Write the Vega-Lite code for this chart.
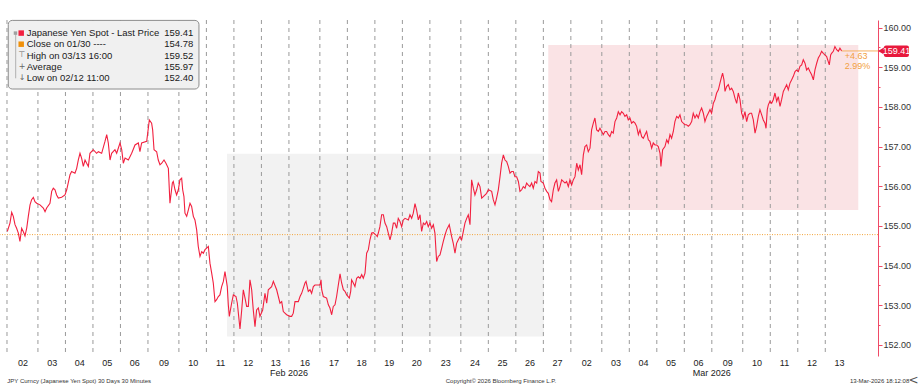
{
  "$schema": "https://vega.github.io/schema/vega-lite/v6.json",
  "width": 878,
  "height": 336,
  "autosize": {"type": "none"},
  "padding": {"left": 0, "top": 20, "right": 40, "bottom": 35},
  "background": "white",
  "view": {"stroke": null},
  "config": {"font": "Liberation Sans"},
  "data": {"values": [{}]},
  "datasets": {
    "px": [
      {"h":0.3,"p":154.86},{"h":2.6,"p":155.07},{"h":4.1,"p":155.34},{"h":5.5,"p":155.24},{"h":7.0,"p":155.03},{"h":8.4,"p":154.94},{"h":9.9,"p":154.82},{"h":11.3,"p":154.61},{"h":12.8,"p":154.94},{"h":14.2,"p":154.86},{"h":15.7,"p":154.75},{"h":17.2,"p":154.94},{"h":18.6,"p":155.24},{"h":20.1,"p":155.53},{"h":21.5,"p":155.66},{"h":23.0,"p":155.72},{"h":24.4,"p":155.61},{"h":25.9,"p":155.57},{"h":28.8,"p":155.53},{"h":31.7,"p":155.45},{"h":33.2,"p":155.36},{"h":34.6,"p":155.45},{"h":37.5,"p":155.57},{"h":39.0,"p":155.87},{"h":40.4,"p":155.95},{"h":41.9,"p":155.91},{"h":43.3,"p":155.78},{"h":44.8,"p":155.70},{"h":47.7,"p":155.72},{"h":50.6,"p":155.78},{"h":52.1,"p":155.91},{"h":55.0,"p":156.29},{"h":56.4,"p":156.37},{"h":59.3,"p":156.33},{"h":60.8,"p":156.45},{"h":62.2,"p":156.66},{"h":63.7,"p":156.83},{"h":65.1,"p":156.71},{"h":66.6,"p":156.50},{"h":68.1,"p":156.66},{"h":69.5,"p":156.58},{"h":71.0,"p":156.50},{"h":72.4,"p":156.83},{"h":75.3,"p":156.92},{"h":78.2,"p":156.83},{"h":79.7,"p":156.87},{"h":82.6,"p":156.83},{"h":85.5,"p":157.13},{"h":87.0,"p":157.30},{"h":88.4,"p":157.09},{"h":89.9,"p":156.66},{"h":91.3,"p":156.83},{"h":94.2,"p":156.92},{"h":95.7,"p":156.83},{"h":98.6,"p":157.09},{"h":100.1,"p":156.92},{"h":101.5,"p":156.58},{"h":103.0,"p":156.71},{"h":105.9,"p":156.66},{"h":108.8,"p":156.83},{"h":111.7,"p":157.04},{"h":114.6,"p":157.09},{"h":116.0,"p":156.87},{"h":117.5,"p":157.09},{"h":121.9,"p":157.13},
      {"h":124.2,"p":157.67},{"h":126.2,"p":157.59},{"h":127.1,"p":157.42},{"h":128.3,"p":156.92},{"h":130.6,"p":156.87},{"h":132.0,"p":156.66},{"h":133.5,"p":156.54},{"h":135.0,"p":156.58},{"h":137.0,"p":156.66},{"h":138.7,"p":156.58},{"h":140.8,"p":156.45},{"h":142.2,"p":155.57},{"h":144.3,"p":156.08},{"h":145.1,"p":156.12},{"h":146.6,"p":155.91},{"h":148.0,"p":155.78},{"h":149.5,"p":155.91},{"h":150.9,"p":156.16},{"h":152.4,"p":156.20},{"h":153.3,"p":155.91},{"h":154.4,"p":155.74},{"h":155.3,"p":155.32},{"h":156.8,"p":155.24},{"h":158.2,"p":155.40},{"h":159.7,"p":155.57},{"h":161.1,"p":155.49},{"h":162.6,"p":155.24},{"h":164.0,"p":155.15},{"h":165.5,"p":154.90},{"h":166.9,"p":154.48},{"h":168.4,"p":154.23},{"h":169.9,"p":154.35},{"h":171.3,"p":154.31},{"h":172.8,"p":154.40},{"h":174.2,"p":154.44},{"h":175.7,"p":154.48},{"h":177.1,"p":154.06},{"h":178.6,"p":153.81},{"h":180.0,"p":153.56},{"h":181.5,"p":153.09},{"h":182.9,"p":153.14},{"h":184.4,"p":153.22},{"h":185.8,"p":153.26},{"h":187.3,"p":153.47},{"h":188.8,"p":153.60},{"h":190.2,"p":153.85},{"h":191.1,"p":153.68},{"h":192.2,"p":153.47},{"h":193.1,"p":153.01},{"h":194.0,"p":152.72},{"h":196.0,"p":153.05},{"h":197.5,"p":153.26},{"h":199.8,"p":153.22},{"h":201.0,"p":153.05},{"h":203.3,"p":152.40},{"h":204.8,"p":152.88},{"h":206.2,"p":153.39},{"h":207.7,"p":153.18},{"h":209.1,"p":152.97},{"h":210.6,"p":152.97},{"h":212.0,"p":153.64},{"h":213.5,"p":153.39},{"h":214.9,"p":152.88},{"h":216.4,"p":152.46},{"h":217.8,"p":152.88},{"h":219.3,"p":152.93},{"h":220.7,"p":152.72},{"h":223.1,"p":152.88},{"h":225.1,"p":153.30},{"h":226.6,"p":153.05},{"h":228.0,"p":153.39},{"h":230.9,"p":153.47},{"h":232.4,"p":153.60},{"h":235.3,"p":153.39},{"h":238.2,"p":153.05},{"h":239.7,"p":153.09},{"h":241.1,"p":152.84},{"h":244.0,"p":152.76},{"h":246.9,"p":152.72},{"h":248.4,"p":152.72},{"h":249.8,"p":152.80},{"h":251.3,"p":153.09},{"h":254.2,"p":153.09},
      {"h":255.7,"p":153.22},{"h":257.1,"p":153.30},{"h":258.6,"p":153.43},{"h":260.0,"p":153.56},{"h":260.9,"p":153.60},{"h":262.9,"p":153.35},{"h":264.4,"p":153.39},{"h":265.8,"p":153.30},{"h":267.3,"p":153.47},{"h":268.7,"p":153.51},{"h":273.1,"p":153.51},{"h":274.0,"p":153.64},{"h":274.6,"p":153.39},{"h":276.0,"p":153.22},{"h":278.9,"p":153.18},{"h":280.4,"p":153.01},{"h":281.8,"p":152.93},{"h":283.3,"p":152.76},{"h":284.7,"p":152.97},{"h":286.2,"p":153.01},{"h":287.6,"p":153.22},{"h":289.1,"p":153.51},{"h":290.6,"p":153.79},{"h":292.0,"p":153.56},{"h":293.5,"p":153.39},{"h":294.9,"p":153.35},{"h":296.4,"p":153.26},{"h":298.7,"p":153.18},{"h":299.9,"p":153.35},{"h":300.7,"p":153.64},{"h":302.2,"p":153.56},{"h":303.6,"p":153.47},{"h":305.1,"p":153.68},{"h":306.5,"p":153.72},{"h":308.0,"p":153.68},{"h":309.5,"p":153.77},{"h":310.9,"p":153.68},{"h":312.4,"p":153.81},{"h":313.8,"p":154.31},{"h":315.3,"p":154.40},{"h":316.7,"p":154.65},{"h":318.2,"p":154.82},{"h":319.6,"p":154.83},{"h":322.0,"p":154.77},{"h":323.1,"p":154.73},{"h":324.0,"p":154.82},{"h":325.4,"p":154.98},{"h":326.9,"p":155.28},{"h":328.4,"p":155.28},{"h":329.8,"p":155.07},{"h":331.3,"p":154.98},{"h":332.7,"p":154.82},{"h":334.2,"p":154.65},{"h":335.6,"p":154.82},{"h":337.1,"p":155.07},{"h":338.5,"p":155.07},{"h":340.0,"p":154.94},{"h":341.4,"p":155.19},{"h":342.9,"p":155.11},{"h":344.4,"p":154.98},{"h":345.8,"p":155.15},{"h":347.3,"p":155.19},{"h":350.2,"p":155.15},{"h":351.6,"p":155.28},{"h":353.1,"p":155.19},{"h":354.5,"p":155.32},{"h":356.0,"p":155.56},{"h":357.4,"p":155.40},{"h":358.9,"p":155.15},{"h":360.4,"p":155.28},{"h":361.8,"p":154.86},{"h":363.3,"p":155.07},{"h":364.7,"p":155.03},{"h":366.2,"p":155.11},{"h":367.6,"p":154.98},{"h":369.1,"p":155.07},{"h":370.5,"p":154.94},{"h":372.0,"p":155.03},{"h":373.4,"p":154.82},{"h":374.9,"p":154.10},{"h":376.3,"p":154.23},{"h":377.8,"p":154.27},
      {"h":379.3,"p":154.44},{"h":380.7,"p":154.61},{"h":382.2,"p":154.77},{"h":383.6,"p":154.90},{"h":385.9,"p":155.03},{"h":388.0,"p":154.73},{"h":389.4,"p":154.56},{"h":390.9,"p":154.31},{"h":392.3,"p":154.56},{"h":393.8,"p":154.65},{"h":395.3,"p":154.73},{"h":396.7,"p":154.65},{"h":398.2,"p":154.86},{"h":399.6,"p":155.07},{"h":401.1,"p":155.19},{"h":402.5,"p":155.28},{"h":404.0,"p":155.03},{"h":405.4,"p":156.16},{"h":406.9,"p":155.95},{"h":408.3,"p":155.78},{"h":409.8,"p":155.91},{"h":411.2,"p":156.08},{"h":412.7,"p":155.99},{"h":414.2,"p":155.70},{"h":415.6,"p":155.74},{"h":418.5,"p":155.82},{"h":420.0,"p":155.91},{"h":422.9,"p":155.87},{"h":424.3,"p":155.66},{"h":425.8,"p":155.53},{"h":427.2,"p":155.70},{"h":428.7,"p":155.91},{"h":430.2,"p":156.24},{"h":431.6,"p":156.58},{"h":433.1,"p":156.79},{"h":434.5,"p":156.66},{"h":436.0,"p":156.62},{"h":437.4,"p":156.50},{"h":438.9,"p":156.33},{"h":440.3,"p":156.37},{"h":441.8,"p":156.37},{"h":443.2,"p":156.24},{"h":444.7,"p":156.24},{"h":446.2,"p":156.12},{"h":447.6,"p":155.87},{"h":449.1,"p":155.91},{"h":450.5,"p":155.99},{"h":452.0,"p":155.95},{"h":453.4,"p":156.08},{"h":454.9,"p":156.03},{"h":456.3,"p":155.99},{"h":457.8,"p":156.08},{"h":459.2,"p":155.95},{"h":460.7,"p":156.12},{"h":462.2,"p":156.08},{"h":463.6,"p":156.37},{"h":465.1,"p":156.33},{"h":465.9,"p":156.12},{"h":468.0,"p":156.08},{"h":469.4,"p":155.95},{"h":470.9,"p":155.87},{"h":472.3,"p":155.82},{"h":473.8,"p":155.66},{"h":475.2,"p":155.61},{"h":476.7,"p":155.91},{"h":478.1,"p":156.08},{"h":479.6,"p":156.16},{"h":481.1,"p":155.87},{"h":482.5,"p":155.99},{"h":484.0,"p":156.16},{"h":485.4,"p":156.12},{"h":486.9,"p":156.08},{"h":488.3,"p":156.12},{"h":489.8,"p":155.99},{"h":491.2,"p":156.16},{"h":492.7,"p":156.03},{"h":494.1,"p":156.16},{"h":495.6,"p":156.24},{"h":497.1,"p":156.58},{"h":498.5,"p":156.41},{"h":500.0,"p":156.54},{"h":501.4,"p":156.29},{"h":502.9,"p":156.79},{"h":504.3,"p":157.00},{"h":505.8,"p":157.04},{"h":507.2,"p":156.87},{"h":508.7,"p":156.96},
      {"h":510.1,"p":157.42},{"h":511.6,"p":157.59},{"h":513.0,"p":157.72},{"h":514.5,"p":157.42},{"h":516.0,"p":157.38},{"h":517.4,"p":157.46},{"h":518.9,"p":157.38},{"h":520.3,"p":157.30},{"h":521.8,"p":157.38},{"h":523.2,"p":157.38},{"h":524.7,"p":157.30},{"h":526.1,"p":157.25},{"h":527.6,"p":157.38},{"h":529.0,"p":157.34},{"h":530.5,"p":157.63},{"h":532.0,"p":157.72},{"h":533.4,"p":157.88},{"h":534.9,"p":157.80},{"h":536.3,"p":157.88},{"h":537.8,"p":157.84},{"h":539.2,"p":157.76},{"h":540.7,"p":157.80},{"h":542.1,"p":157.67},{"h":543.6,"p":157.72},{"h":545.0,"p":157.59},{"h":546.5,"p":157.63},{"h":548.0,"p":157.59},{"h":549.4,"p":157.51},{"h":550.9,"p":157.30},{"h":552.3,"p":157.42},{"h":553.8,"p":157.25},{"h":555.2,"p":157.21},{"h":556.7,"p":157.30},{"h":558.1,"p":157.38},{"h":559.6,"p":157.17},{"h":561.0,"p":157.13},{"h":562.5,"p":156.96},{"h":563.9,"p":157.09},{"h":565.4,"p":157.04},{"h":566.9,"p":157.04},{"h":568.3,"p":157.00},{"h":569.8,"p":156.83},{"h":570.6,"p":156.50},{"h":572.1,"p":156.92},{"h":574.1,"p":157.00},{"h":575.6,"p":157.17},{"h":577.0,"p":157.09},{"h":578.5,"p":157.30},{"h":579.9,"p":157.21},{"h":581.4,"p":157.38},{"h":582.8,"p":157.63},{"h":584.3,"p":157.76},{"h":585.8,"p":157.72},{"h":587.2,"p":157.80},{"h":588.7,"p":157.63},{"h":590.1,"p":157.59},{"h":591.6,"p":157.55},{"h":593.0,"p":157.55},{"h":594.5,"p":157.51},{"h":595.9,"p":157.55},{"h":597.4,"p":157.63},{"h":598.8,"p":157.84},{"h":600.3,"p":157.72},{"h":601.8,"p":157.80},{"h":603.2,"p":157.72},{"h":604.7,"p":157.88},{"h":606.1,"p":157.97},{"h":607.6,"p":157.84},{"h":609.0,"p":157.63},{"h":610.5,"p":157.76},{"h":611.9,"p":157.84},{"h":613.4,"p":157.93},{"h":614.8,"p":157.84},{"h":616.3,"p":158.09},{"h":617.7,"p":158.18},{"h":619.2,"p":158.35},{"h":620.7,"p":158.43},{"h":622.1,"p":158.60},{"h":623.6,"p":158.77},{"h":624.4,"p":158.85},{"h":625.6,"p":158.68},{"h":626.5,"p":158.39},{"h":627.9,"p":158.51},{"h":629.4,"p":158.56},{"h":630.8,"p":158.43},{"h":632.3,"p":158.47},{"h":633.7,"p":158.39},{"h":635.2,"p":158.22},{"h":636.7,"p":158.09},{"h":638.1,"p":158.35},{"h":639.6,"p":158.18},{"h":641.0,"p":157.84},{"h":642.5,"p":157.72},{"h":643.9,"p":157.88},{"h":645.4,"p":157.63},{"h":646.8,"p":157.80},{"h":648.3,"p":157.84},
      {"h":649.7,"p":157.84},{"h":651.2,"p":157.67},{"h":652.7,"p":157.34},{"h":654.1,"p":157.51},{"h":655.6,"p":157.76},{"h":657.0,"p":157.93},{"h":658.5,"p":157.80},{"h":659.9,"p":157.67},{"h":661.4,"p":157.59},{"h":662.3,"p":157.46},{"h":663.4,"p":157.93},{"h":664.3,"p":158.05},{"h":665.7,"p":158.14},{"h":667.2,"p":158.09},{"h":668.6,"p":158.18},{"h":670.1,"p":158.35},{"h":671.6,"p":158.14},{"h":673.0,"p":158.26},{"h":674.5,"p":158.01},{"h":675.9,"p":158.18},{"h":677.4,"p":158.39},{"h":678.8,"p":158.47},{"h":680.3,"p":158.56},{"h":681.7,"p":158.43},{"h":683.2,"p":158.60},{"h":684.6,"p":158.68},{"h":686.1,"p":158.77},{"h":687.6,"p":158.89},{"h":689.0,"p":158.93},{"h":690.5,"p":158.89},{"h":691.9,"p":159.02},{"h":693.4,"p":159.06},{"h":694.8,"p":159.19},{"h":696.3,"p":159.10},{"h":697.7,"p":158.93},{"h":699.2,"p":158.98},{"h":700.6,"p":158.89},{"h":702.1,"p":158.81},{"h":703.6,"p":158.68},{"h":705.0,"p":158.93},{"h":706.5,"p":159.10},{"h":707.9,"p":159.23},{"h":709.4,"p":159.31},{"h":710.8,"p":159.40},{"h":712.3,"p":159.35},{"h":713.7,"p":159.31},{"h":715.2,"p":159.27},{"h":716.6,"p":159.14},{"h":717.5,"p":159.06},{"h":718.7,"p":159.31},{"h":719.5,"p":159.35},{"h":721.0,"p":159.40},{"h":722.4,"p":159.52},{"h":723.9,"p":159.44},{"h":725.4,"p":159.40},{"h":726.8,"p":159.48},{"h":728.3,"p":159.41}
    ],
    "days": [
      {"b":0},{"b":27},{"b":51},{"b":75},{"b":99},{"b":123},{"b":150},{"b":174},{"b":198},{"b":222},{"b":246},{"b":273},{"b":297},{"b":321},{"b":345},{"b":369},{"b":396},{"b":420},{"b":444},{"b":468},{"b":492},{"b":519},{"b":543},{"b":567},{"b":591},{"b":615},{"b":642},{"b":666},{"b":690},{"b":714}
    ],
    "months": [
      {"m": 246, "label": "Feb 2026"},
      {"m": 615, "label": "Mar 2026"}
    ]
  },
  "layer": [
    {
      "mark": {"type": "rect", "color": "#f2f2f2"},
      "encoding": {
        "x": {"datum": 192.0, "type": "quantitative"}, "x2": {"datum": 468.5},
        "y": {"datum": 152.21, "type": "quantitative"}, "y2": {"datum": 156.82}
      }
    },
    {
      "mark": {"type": "rect", "color": "#fae3e5"},
      "encoding": {
        "x": {"datum": 472.3, "type": "quantitative"}, "x2": {"datum": 742.8},
        "y": {"datum": 155.40, "type": "quantitative"}, "y2": {"datum": 159.56}
      }
    },
    {
      "data": {"name": "days"},
      "mark": {"type": "rule", "color": "#9a9a9a", "strokeDash": [4, 4], "strokeWidth": 1},
      "encoding": {"x": {"field": "b", "type": "quantitative"}}
    },
    {
      "mark": {"type": "rule", "color": "#f2a33a", "strokeDash": [1, 1.5], "strokeWidth": 1},
      "encoding": {"y": {"datum": 154.78, "type": "quantitative"}}
    },
    {
      "data": {"name": "px"},
      "mark": {"type": "line", "color": "#f2203f", "strokeWidth": 1.1},
      "encoding": {
        "x": {
          "field": "h", "type": "quantitative",
          "scale": {"domain": [-6.1, 760], "nice": false, "zero": false},
          "axis": {
            "title": null, "orient": "bottom", "domain": false, "ticks": false, "grid": false,
            "tickCount": 200, "labelOverlap": false, "labelPadding": 2, "labelFontSize": 9, "labelColor": "#222",
            "labelFont": "Liberation Sans",
            "values": [13.5,39,63,87,111,136.5,162,186,210,234,259.5,285,309,333,357,382.5,408,432,456,480,505.5,531,555,579,603,628.5,654,678,702,726],
            "labelExpr": "['02','03','04','05','06','09','10','11','12','13','16','17','18','19','20','23','24','25','26','27','02','03','04','05','06','09','10','11','12','13'][indexof([13.5,39,63,87,111,136.5,162,186,210,234,259.5,285,309,333,357,382.5,408,432,456,480,505.5,531,555,579,603,628.5,654,678,702,726], datum.value)]"
          }
        },
        "y": {
          "field": "p", "type": "quantitative",
          "scale": {"domain": [151.72, 160.19], "nice": false, "zero": false},
          "axis": {
            "title": null, "orient": "right", "grid": false, "tickCount": 200, "labelOverlap": false,
            "values": [152,152.5,153,153.5,154,154.5,155,155.5,156,156.5,157,157.5,158,158.5,159,159.5,160],
            "labelExpr": "datum.value % 1 === 0 ? format(datum.value, '.2f') : ''",
            "domainColor": "#f04a66", "tickColor": "#f04a66",
            "tickSize": {"condition": {"test": "datum.value % 1 === 0", "value": 4}, "value": 2},
            "labelPadding": 1, "labelFontSize": 9, "labelColor": "#333", "labelFont": "Liberation Sans"
          }
        }
      }
    },
    {
      "data": {"name": "months"},
      "mark": {"type": "text", "align": "center", "baseline": "middle", "fontSize": 9, "color": "#222", "font": "Liberation Sans"},
      "encoding": {
        "x": {"field": "m", "type": "quantitative"},
        "y": {"datum": 151.29, "type": "quantitative"},
        "text": {"field": "label"}
      }
    },
    {
      "mark": {"type": "rule", "color": "#f5b060", "strokeWidth": 1},
      "encoding": {
        "x": {"datum": 728.3, "type": "quantitative"}, "x2": {"datum": 760},
        "y": {"datum": 159.41, "type": "quantitative"}
      }
    },
    {
      "mark": {"type": "text", "align": "left", "baseline": "middle", "fontSize": 9, "lineHeight": 9.5, "color": "#f2a040", "font": "Liberation Sans"},
      "encoding": {
        "x": {"datum": 731.0, "type": "quantitative"},
        "y": {"datum": 159.27, "type": "quantitative"},
        "text": {"value": ["+4.63", "2.99%"]}
      }
    },
    {
      "mark": {"type": "rect", "color": "#e8193c", "cornerRadius": 2},
      "encoding": {
        "x": {"datum": 765.2, "type": "quantitative"}, "x2": {"datum": 787.0},
        "y": {"datum": 159.26, "type": "quantitative"}, "y2": {"datum": 159.55}
      }
    },
    {
      "mark": {"type": "point", "shape": "triangle-left", "filled": true, "size": 55, "color": "#e8193c", "opacity": 1},
      "encoding": {
        "x": {"datum": 762.8, "type": "quantitative"},
        "y": {"datum": 159.41, "type": "quantitative"}
      }
    },
    {
      "mark": {"type": "text", "align": "center", "baseline": "middle", "fontSize": 9, "color": "white", "font": "Liberation Sans"},
      "encoding": {
        "x": {"datum": 776.1, "type": "quantitative"},
        "y": {"datum": 159.41, "type": "quantitative"},
        "text": {"value": "159.41"}
      }
    },
    {
      "mark": {"type": "rect", "fill": "#f0f0f0", "stroke": "#8c8c8c", "strokeWidth": 1, "cornerRadius": 4},
      "encoding": {
        "x": {"datum": 1.1, "type": "quantitative"}, "x2": {"datum": 167.5},
        "y": {"datum": 158.45, "type": "quantitative"}, "y2": {"datum": 160.18}
      }
    },
    {
      "mark": {"type": "rule", "color": "#b0b0b0", "strokeWidth": 1},
      "encoding": {
        "x": {"datum": 7.6, "type": "quantitative"},
        "y": {"datum": 158.72, "type": "quantitative"}, "y2": {"datum": 159.86}
      }
    },
    {
      "mark": {"type": "point", "shape": "square", "filled": true, "size": 12, "color": "#a0a0a0", "opacity": 1},
      "encoding": {
        "x": {"datum": 7.4, "type": "quantitative"},
        "y": {"datum": 159.86, "type": "quantitative"}
      }
    },
    {
      "mark": {"type": "point", "shape": "square", "filled": true, "size": 30, "color": "#f2203f", "opacity": 1},
      "encoding": {
        "x": {"datum": 12.4, "type": "quantitative"},
        "y": {"datum": 159.86, "type": "quantitative"}
      }
    },
    {
      "mark": {"type": "point", "shape": "square", "filled": true, "size": 30, "color": "#f0900a", "opacity": 1},
      "encoding": {
        "x": {"datum": 12.4, "type": "quantitative"},
        "y": {"datum": 159.58, "type": "quantitative"}
      }
    },
    {
      "mark": {"type": "text", "align": "center", "baseline": "middle", "fontSize": 8, "color": "#666", "font": "DejaVu Sans"},
      "encoding": {
        "x": {"datum": 13.1, "type": "quantitative"},
        "y": {"datum": 159.30, "type": "quantitative"},
        "text": {"value": "⊤"}
      }
    },
    {
      "mark": {"type": "text", "align": "center", "baseline": "middle", "fontSize": 8, "color": "#666", "font": "DejaVu Sans"},
      "encoding": {
        "x": {"datum": 13.1, "type": "quantitative"},
        "y": {"datum": 159.01, "type": "quantitative"},
        "text": {"value": "+"}
      }
    },
    {
      "mark": {"type": "text", "align": "center", "baseline": "middle", "fontSize": 8, "color": "#666", "font": "DejaVu Sans"},
      "encoding": {
        "x": {"datum": 13.1, "type": "quantitative"},
        "y": {"datum": 158.73, "type": "quantitative"},
        "text": {"value": "↓"}
      }
    },
    {
      "mark": {"type": "text", "align": "left", "baseline": "middle", "fontSize": 9.5, "lineHeight": 11.3, "color": "#1a1a1a", "font": "Liberation Sans"},
      "encoding": {
        "x": {"datum": 17.2, "type": "quantitative"},
        "y": {"datum": 159.86, "type": "quantitative"},
        "text": {"value": ["Japanese Yen Spot - Last Price", "Close on 01/30 ----", "High on 03/13 16:00", "Average", "Low on 02/12 11:00"]}
      }
    },
    {
      "mark": {"type": "text", "align": "right", "baseline": "middle", "fontSize": 9.5, "lineHeight": 11.3, "color": "#1a1a1a", "font": "Liberation Sans"},
      "encoding": {
        "x": {"datum": 162.5, "type": "quantitative"},
        "y": {"datum": 159.86, "type": "quantitative"},
        "text": {"value": ["159.41", "154.78", "159.52", "155.97", "152.40"]}
      }
    },
    {
      "mark": {"type": "text", "align": "left", "baseline": "middle", "fontSize": 6, "color": "#333", "font": "Liberation Sans"},
      "encoding": {
        "x": {"datum": 0.3, "type": "quantitative"},
        "y": {"datum": 151.09, "type": "quantitative"},
        "text": {"value": "JPY Curncy (Japanese Yen Spot) 30 Days 30 Minutes"}
      }
    },
    {
      "mark": {"type": "text", "align": "center", "baseline": "middle", "fontSize": 6, "color": "#333", "font": "Liberation Sans"},
      "encoding": {
        "x": {"datum": 431.0, "type": "quantitative"},
        "y": {"datum": 151.09, "type": "quantitative"},
        "text": {"value": "Copyright© 2026 Bloomberg Finance L.P."}
      }
    },
    {
      "mark": {"type": "text", "align": "right", "baseline": "middle", "fontSize": 6, "color": "#333", "font": "Liberation Sans"},
      "encoding": {
        "x": {"datum": 787.3, "type": "quantitative"},
        "y": {"datum": 151.09, "type": "quantitative"},
        "text": {"value": "13-Mar-2026 18:12:08"}
      }
    },
    {
      "mark": {"type": "text", "align": "center", "baseline": "middle", "fontSize": 12, "color": "#555", "font": "DejaVu Sans"},
      "encoding": {
        "x": {"datum": 791.0, "type": "quantitative"},
        "y": {"datum": 151.12, "type": "quantitative"},
        "text": {"value": "<"}
      }
    }
  ]
}
